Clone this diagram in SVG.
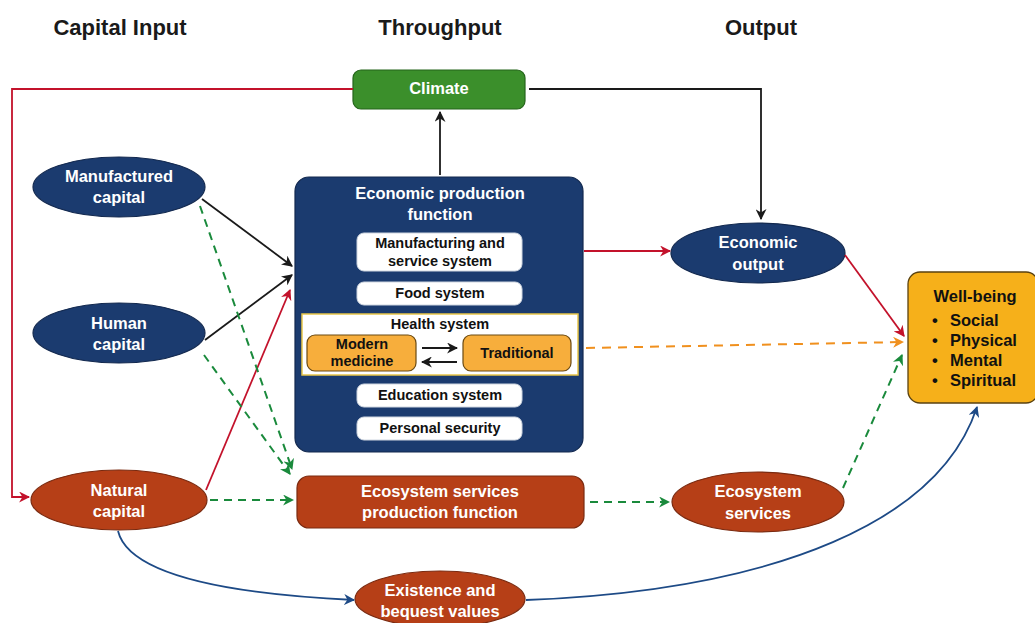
<svg xmlns="http://www.w3.org/2000/svg" width="1035" height="623" viewBox="0 0 1035 623">
<defs>
<style>
.hdr{font-family:"Liberation Sans",Arial,sans-serif;font-weight:bold;font-size:22px;fill:#1a1a1a;text-anchor:middle}
.wt{font-family:"Liberation Sans",Arial,sans-serif;font-weight:bold;font-size:16.5px;fill:#ffffff;text-anchor:middle}
.bt{font-family:"Liberation Sans",Arial,sans-serif;font-weight:bold;font-size:14.5px;fill:#111111;text-anchor:middle}
.wb{font-family:"Liberation Sans",Arial,sans-serif;font-weight:bold;font-size:16.5px;fill:#111111}
.navy{fill:#1b3b6f;stroke:#13294f;stroke-width:1.2}
.rust{fill:#b63f17;stroke:#7a2a10;stroke-width:1.2}
.inner{fill:#ffffff;stroke:#cfd6e0;stroke-width:1}
.orng{fill:#f7ae3c;stroke:#6b4a12;stroke-width:1.2}
.blk{fill:none;stroke:#1a1a1a;stroke-width:1.8}
.red{fill:none;stroke:#c3122b;stroke-width:1.8}
.grn{fill:none;stroke:#1a8a3c;stroke-width:2;stroke-dasharray:8 6}
.org{fill:none;stroke:#f0901e;stroke-width:2;stroke-dasharray:9 7}
.blu{fill:none;stroke:#1d4a86;stroke-width:1.8}
</style>
<marker id="ab" viewBox="0 0 10 10" refX="9" refY="5" markerWidth="11" markerHeight="11" orient="auto" markerUnits="userSpaceOnUse"><path d="M0,0 L10,5 L0,10 L3,5 z" fill="#1a1a1a"/></marker>
<marker id="ar" viewBox="0 0 10 10" refX="9" refY="5" markerWidth="11" markerHeight="11" orient="auto" markerUnits="userSpaceOnUse"><path d="M0,0 L10,5 L0,10 L3,5 z" fill="#c3122b"/></marker>
<marker id="ag" viewBox="0 0 10 10" refX="9" refY="5" markerWidth="11" markerHeight="11" orient="auto" markerUnits="userSpaceOnUse"><path d="M0,0 L10,5 L0,10 L3,5 z" fill="#1a8a3c"/></marker>
<marker id="ao" viewBox="0 0 10 10" refX="9" refY="5" markerWidth="11" markerHeight="11" orient="auto" markerUnits="userSpaceOnUse"><path d="M0,0 L10,5 L0,10 L3,5 z" fill="#f0901e"/></marker>
<marker id="au" viewBox="0 0 10 10" refX="9" refY="5" markerWidth="11" markerHeight="11" orient="auto" markerUnits="userSpaceOnUse"><path d="M0,0 L10,5 L0,10 L3,5 z" fill="#1d4a86"/></marker>
</defs>
<rect width="1035" height="623" fill="#ffffff"/>

<g id="headers">
<text class="hdr" x="120" y="35">Capital Input</text>
<text class="hdr" x="440" y="35">Throughput</text>
<text class="hdr" x="761" y="35">Output</text>
</g>

<g id="climate">
<rect x="353" y="70" width="172" height="39" rx="8" fill="#3b8f2b" stroke="#25651b" stroke-width="1.2"/>
<text class="wt" x="439" y="94">Climate</text>
</g>

<g id="manufactured-capital">
<ellipse class="navy" cx="119" cy="187" rx="86" ry="30"/>
<text class="wt" x="119" y="182">Manufactured</text>
<text class="wt" x="119" y="203">capital</text>
</g>

<g id="human-capital">
<ellipse class="navy" cx="119" cy="333" rx="86" ry="30"/>
<text class="wt" x="119" y="329">Human</text>
<text class="wt" x="119" y="350">capital</text>
</g>

<g id="natural-capital">
<ellipse class="rust" cx="119" cy="500" rx="88" ry="30"/>
<text class="wt" x="119" y="496">Natural</text>
<text class="wt" x="119" y="517">capital</text>
</g>

<g id="economic-production-function">
<rect x="295" y="177" width="288" height="275" rx="14" class="navy"/>
<text class="wt" x="440" y="199">Economic production</text>
<text class="wt" x="440" y="220">function</text>
<g id="manufacturing-system">
<rect class="inner" x="357" y="233" width="165" height="38" rx="7"/>
<text class="bt" x="440" y="248">Manufacturing and</text>
<text class="bt" x="440" y="266">service system</text>
</g>
<g id="food-system">
<rect class="inner" x="357" y="282" width="165" height="23" rx="7"/>
<text class="bt" x="440" y="298">Food system</text>
</g>
<g id="health-system">
<rect x="302" y="314" width="276" height="61" fill="#ffffff" stroke="#e8c64a" stroke-width="1.5"/>
<text class="bt" x="440" y="329">Health system</text>
<rect class="orng" x="307" y="335" width="109" height="36" rx="8"/>
<text class="bt" x="362" y="349">Modern</text>
<text class="bt" x="362" y="366">medicine</text>
<rect class="orng" x="463" y="335" width="108" height="36" rx="8"/>
<text class="bt" x="517" y="358">Traditional</text>
</g>
<g id="education-system">
<rect class="inner" x="357" y="384" width="165" height="23" rx="7"/>
<text class="bt" x="440" y="400">Education system</text>
</g>
<g id="personal-security">
<rect class="inner" x="357" y="417" width="165" height="23" rx="7"/>
<text class="bt" x="440" y="433">Personal security</text>
</g>
</g>

<g id="ecosystem-services-production-function">
<rect class="rust" x="297" y="476" width="287" height="52" rx="12"/>
<text class="wt" x="440" y="497">Ecosystem services</text>
<text class="wt" x="440" y="518">production function</text>
</g>

<g id="economic-output">
<ellipse class="navy" cx="758" cy="253" rx="87" ry="30"/>
<text class="wt" x="758" y="248">Economic</text>
<text class="wt" x="758" y="270">output</text>
</g>

<g id="ecosystem-services">
<ellipse class="rust" cx="758" cy="502" rx="86" ry="30"/>
<text class="wt" x="758" y="497">Ecosystem</text>
<text class="wt" x="758" y="519">services</text>
</g>

<g id="existence-bequest">
<ellipse class="rust" cx="440" cy="599" rx="85" ry="28"/>
<text class="wt" x="440" y="596">Existence and</text>
<text class="wt" x="440" y="617">bequest values</text>
</g>

<g id="well-being">
<rect x="908" y="272" width="130" height="131" rx="12" fill="#f6b01a" stroke="#5a4210" stroke-width="1.3"/>
<text class="wb" x="975" y="302" text-anchor="middle">Well-being</text>
<text class="wb" x="932" y="326">•</text><text class="wb" x="950" y="326">Social</text>
<text class="wb" x="932" y="346">•</text><text class="wb" x="950" y="346">Physical</text>
<text class="wb" x="932" y="366">•</text><text class="wb" x="950" y="366">Mental</text>
<text class="wb" x="932" y="386">•</text><text class="wb" x="950" y="386">Spiritual</text>
</g>

<g id="connectors">
<polyline class="red" points="353,89 12,89 12,497 29,497" marker-end="url(#ar)"/>
<polyline class="blk" points="529,89 761,89 761,219" marker-end="url(#ab)"/>
<line class="blk" x1="440" y1="175" x2="440" y2="112" marker-end="url(#ab)"/>
<line class="blk" x1="202" y1="199" x2="292" y2="266" marker-end="url(#ab)"/>
<line class="blk" x1="205" y1="340" x2="292" y2="275" marker-end="url(#ab)"/>
<line class="red" x1="206" y1="490" x2="290" y2="290" marker-end="url(#ar)"/>
<line class="grn" x1="200" y1="206" x2="292" y2="469" marker-end="url(#ag)"/>
<line class="grn" x1="204" y1="355" x2="290" y2="474" marker-end="url(#ag)"/>
<line class="grn" x1="210" y1="500" x2="293" y2="500" marker-end="url(#ag)"/>
<line class="red" x1="584" y1="251" x2="670" y2="251" marker-end="url(#ar)"/>
<line class="red" x1="845" y1="255" x2="904" y2="336" marker-end="url(#ar)"/>
<line class="org" x1="586" y1="348" x2="903" y2="342" marker-end="url(#ao)"/>
<line class="grn" x1="590" y1="502" x2="669" y2="502" marker-end="url(#ag)"/>
<line class="grn" x1="843" y1="488" x2="902" y2="355" marker-end="url(#ag)"/>
<line class="blk" x1="422" y1="348" x2="457" y2="348" marker-end="url(#ab)"/>
<line class="blk" x1="457" y1="362" x2="422" y2="362" marker-end="url(#ab)"/>
<path class="blu" d="M118,531 C130,580 250,595 354,600" marker-end="url(#au)"/>
<path class="blu" d="M526,600 C780,590 940,520 977,407" marker-end="url(#au)"/>
</g>
</svg>
